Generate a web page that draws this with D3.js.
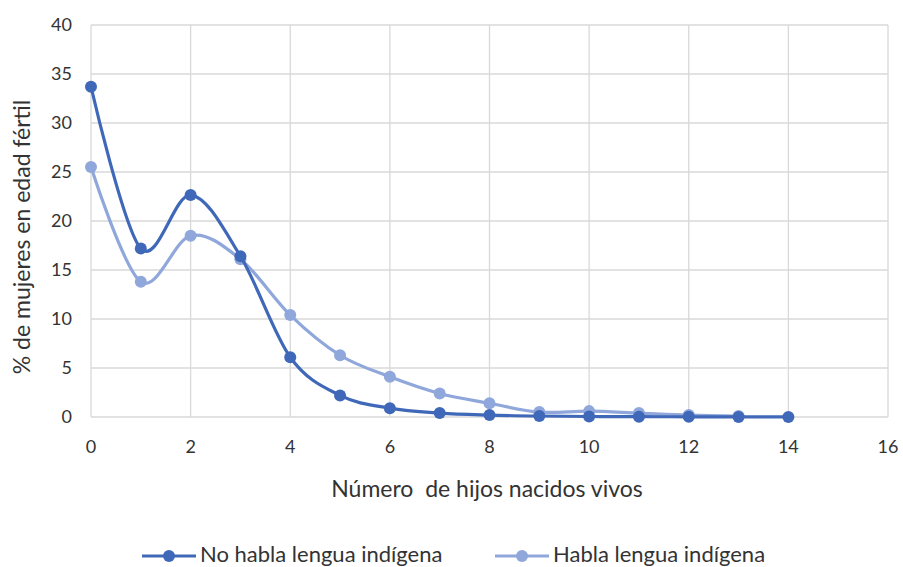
<!DOCTYPE html>
<html>
<head>
<meta charset="utf-8">
<script src="https://cdn.jsdelivr.net/npm/d3@7"></script>
<style>
  body { margin: 0; background: #fff; }
  svg text { font-family: Lato, "Open Sans", sans-serif; fill: #333; }
</style>
</head>
<body>
<script>
const w = 903
const h = 567
let margin = { top: 25, left: 91, bottom: 150, right: 14 }

// datos
const hijos = [0, 1, 2, 3, 4, 5, 6, 7, 8, 9, 10, 11, 12, 13, 14]
const noHabla = [33.7, 17.2, 22.65, 16.4, 6.1, 2.2, 0.9, 0.4, 0.2, 0.1, 0.05, 0.03, 0.02, 0.01, 0.01]
const habla = [25.5, 13.8, 18.5, 16.1, 10.4, 6.3, 4.1, 2.4, 1.4, 0.5, 0.6, 0.4, 0.2, 0.1]
const xTicks = [0, 2, 4, 6, 8, 10, 12, 14, 16]
const yTicks = [0, 5, 10, 15, 20, 25, 30, 35, 40]

const series = [
  { name: "No habla lengua indígena", values: noHabla, color: "#4068b8" },
  { name: "Habla lengua indígena", values: habla, color: "#8fa7da" }
]

const svg = d3.select('body').append('svg')
  .attr('width', w).attr('height', h)

const x = d3.scaleLinear().domain([0, 16]).range([margin.left, w - margin.right - 1])
const y = d3.scaleLinear().domain([0, 40]).range([h - margin.bottom, margin.top])

// grid
svg.append('g').selectAll('line.h').data(yTicks).enter().append('line')
  .attr('x1', x(0)).attr('x2', x(16))
  .attr('y1', d => y(d)).attr('y2', d => y(d))
  .attr('stroke', '#d9d9d9').attr('stroke-width', 1.3)
svg.append('g').selectAll('line.v').data(xTicks).enter().append('line')
  .attr('x1', d => x(d)).attr('x2', d => x(d))
  .attr('y1', y(0)).attr('y2', y(40))
  .attr('stroke', '#d9d9d9').attr('stroke-width', 1.3)

// tick labels
svg.append('g').selectAll('text').data(yTicks).enter().append('text')
  .attr('x', 72).attr('y', d => y(d) + 6)
  .attr('text-anchor', 'end').attr('font-size', 18)
  .text(d => d)
svg.append('g').selectAll('text').data(xTicks).enter().append('text')
  .attr('x', d => x(d)).attr('y', y(0) + 36)
  .attr('text-anchor', 'middle').attr('font-size', 18)
  .text(d => d)

// titulos
svg.append('text')
  .attr('transform', `translate(30,${(y(0) + y(40)) / 2 + 16}) rotate(-90)`)
  .attr('text-anchor', 'middle').attr('font-size', 23)
  .text('% de mujeres en edad fértil')
svg.append('text')
  .attr('x', 487).attr('y', 497)
  .attr('text-anchor', 'middle').attr('font-size', 23)
  .attr('xml:space', 'preserve')
  .text('Número  de hijos nacidos vivos')

const line = d3.line()
  .x((d, i) => x(hijos[i]))
  .y(d => y(d))
  .curve(d3.curveCardinal.tension(0))

series.slice().reverse().forEach(s => {
  svg.append('path')
    .attr('d', line(s.values))
    .attr('fill', 'none')
    .attr('stroke', s.color)
    .attr('stroke-width', 3.2)
  svg.append('g').selectAll('circle').data(s.values).enter().append('circle')
    .attr('cx', (d, i) => x(hijos[i]))
    .attr('cy', d => y(d))
    .attr('r', 6)
    .attr('fill', s.color)
})

// leyenda
const legX = [142, 495]
series.forEach((s, i) => {
  const g = svg.append('g').attr('transform', `translate(${legX[i]},556)`)
  g.append('line').attr('x1', 0).attr('x2', 54).attr('y1', 0).attr('y2', 0)
    .attr('stroke', s.color).attr('stroke-width', 3.2)
  g.append('circle').attr('cx', 27).attr('cy', 0).attr('r', 6).attr('fill', s.color)
  g.append('text').attr('x', 58).attr('y', 6).attr('font-size', 22).text(s.name)
})
</script>
</body>
</html>
